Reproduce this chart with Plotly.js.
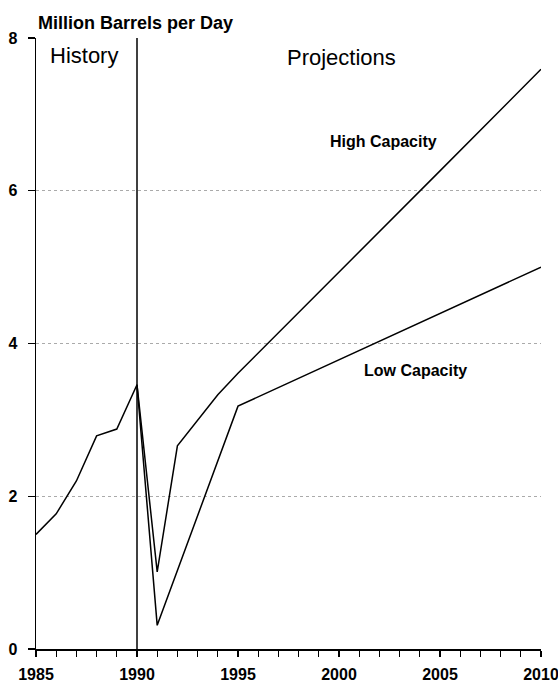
<!DOCTYPE html>
<html><head><meta charset="utf-8">
<script src="https://cdn.plot.ly/plotly-3.0.1.min.js"></script>
<style>body{margin:0;background:#fff}#c{width:558px;height:682px}</style>
</head><body><div id="c"></div>
<script>
const histYears = [1985, 1986, 1987, 1988, 1989, 1990];
const histValues = [1.5, 1.77, 2.2, 2.79, 2.88, 3.46];
const highYears = [1990, 1991, 1992, 1993, 1994, 1995, 2000, 2005, 2010];
const highValues = [3.46, 1.01, 2.66, 3.0, 3.33, 3.61, 4.93, 6.26, 7.59];
const lowYears = [1990, 1991, 1995, 2000, 2005, 2010];
const lowValues = [3.46, 0.31, 3.18, 3.79, 4.39, 5.0];
const xTickVals = [1985, 1990, 1995, 2000, 2005, 2010];
const yTickVals = [0, 2, 4, 6, 8];

const lineStyle = {color: '#000', width: 1.5};
const traces = [
  {x: histYears, y: histValues, mode: 'lines', line: lineStyle, name: 'History'},
  {x: highYears, y: highValues, mode: 'lines', line: lineStyle, name: 'High Capacity'},
  {x: lowYears, y: lowValues, mode: 'lines', line: lineStyle, name: 'Low Capacity'}
];
const fam = 'Liberation Sans, Arial, sans-serif';
const tickFont = {family: fam, size: 16, weight: 'bold', color: '#000'};
const layout = {
  width: 558, height: 682,
  margin: {l: 36, r: 17, t: 38, b: 33},
  showlegend: false,
  paper_bgcolor: '#fff', plot_bgcolor: '#fff',
  font: {family: fam, color: '#000'},
  xaxis: {
    range: [1985, 2010], tickvals: xTickVals, ticks: 'outside', ticklen: 6, tickwidth: 1.2, tickcolor: '#000',
    showline: true, linecolor: '#000', linewidth: 1.5, showgrid: false, zeroline: false,
    tickfont: tickFont, ticklabelstandoff: 4, ticklabeloverflow: 'allow',
    minor: {dtick: 1, ticks: 'outside', ticklen: 6, tickcolor: '#000', tickwidth: 1, showgrid: false}
  },
  yaxis: {
    range: [0, 8], tickvals: yTickVals, ticks: 'outside', ticklen: 7, tickwidth: 1.2, tickcolor: '#000',
    showline: true, linecolor: '#000', linewidth: 1.5, zeroline: false,
    showgrid: true, gridcolor: '#aaa', griddash: 'dot', gridwidth: 1,
    tickfont: tickFont, ticklabelstandoff: 7, ticklabeloverflow: 'allow'
  },
  shapes: [
    {type: 'line', xref: 'x', yref: 'y', x0: 1990, x1: 1990, y0: 0, y1: 8, line: {color: '#000', width: 1.5}}
  ],
  annotations: [
    {text: 'Million Barrels per Day', xref: 'x', yref: 'paper', x: 1985.0, y: 1.025, xanchor: 'left', yanchor: 'middle', showarrow: false, font: {family: fam, size: 18, weight: 'bold', color: '#000'}},
    {text: 'History', xref: 'x', yref: 'y', x: 1987.4, y: 7.77, xanchor: 'center', yanchor: 'middle', showarrow: false, font: {family: fam, size: 22, color: '#000'}},
    {text: 'Projections', xref: 'x', yref: 'y', x: 2000.1, y: 7.75, xanchor: 'center', yanchor: 'middle', showarrow: false, font: {family: fam, size: 22, color: '#000'}},
    {text: 'High Capacity', xref: 'x', yref: 'y', x: 2002.2, y: 6.65, xanchor: 'center', yanchor: 'middle', showarrow: false, font: {family: fam, size: 16, weight: 'bold', color: '#000'}},
    {text: 'Low Capacity', xref: 'x', yref: 'y', x: 2003.8, y: 3.65, xanchor: 'center', yanchor: 'middle', showarrow: false, font: {family: fam, size: 16, weight: 'bold', color: '#000'}}
  ]
};
Plotly.newPlot('c', traces, layout, {staticPlot: true});
</script></body></html>
